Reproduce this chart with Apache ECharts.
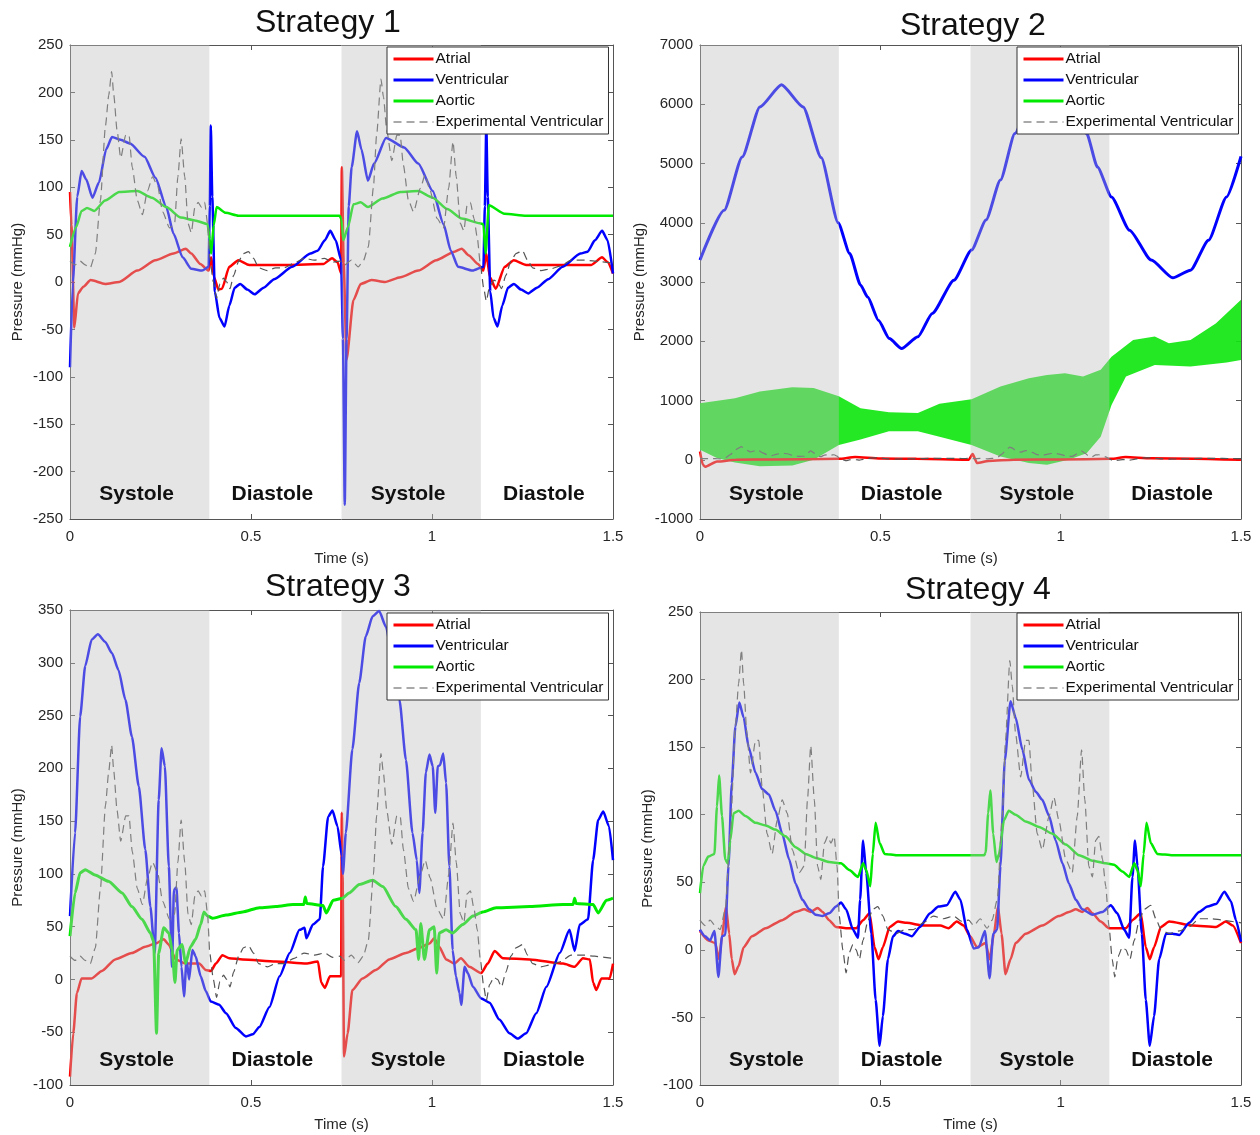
<!DOCTYPE html>
<html>
<head>
<meta charset="utf-8">
<script src="https://cdn.jsdelivr.net/npm/echarts@6/dist/echarts.min.js"></script>
<style>html,body{margin:0;padding:0;background:#fff}#chart{width:1260px;height:1135px}</style>
</head>
<body>
<div id="chart"></div>
<script>
// ---------- tick / category data ----------
const xTicks = [0, 0.5, 1, 1.5];
const phaseBounds = [[0, 0.385], [0.385, 0.75], [0.75, 1.135], [1.135, 1.5]];
const phaseNames = ['Systole', 'Diastole', 'Systole', 'Diastole'];
const phaseShaded = [1, 0, 1, 0];
const titles = ['Strategy 1', 'Strategy 2', 'Strategy 3', 'Strategy 4'];
const legendNames = ['Atrial', 'Ventricular', 'Aortic', 'Experimental Ventricular'];
const yRanges = [[-250, 250, 50], [-1000, 7000, 1000], [-100, 350, 50], [-100, 250, 50]];

// ---------- experimental ventricular (same in every panel) ----------
const expVent = [[0,22],[0.014,18],[0.028,22],[0.042,18],[0.056,15],[0.07,30],[0.084,86],[0.098,165],[0.107,197],[0.115,222],[0.121,197],[0.13,160],[0.14,131],[0.154,155],[0.163,155],[0.172,121],[0.186,86],[0.2,71],[0.214,96],[0.228,111],[0.242,101],[0.256,74],[0.275,57],[0.289,62],[0.298,111],[0.307,151],[0.317,111],[0.326,62],[0.335,52],[0.345,79],[0.354,84],[0.363,79],[0.372,84],[0.38,62],[0.386,25],[0.396,0],[0.405,-17],[0.414,-2],[0.424,4],[0.433,0],[0.442,-7],[0.452,7],[0.466,22],[0.479,30],[0.493,32],[0.507,25],[0.521,15],[0.545,12],[0.568,15],[0.591,15],[0.619,20],[0.647,25],[0.675,23],[0.703,25],[0.726,21],[0.745,22],[0.759,18],[0.777,23],[0.796,16],[0.81,22],[0.824,37],[0.838,99],[0.847,155],[0.859,214],[0.866,195],[0.875,160],[0.889,128],[0.903,155],[0.912,155],[0.921,123],[0.935,86],[0.949,74],[0.968,99],[0.981,113],[0.995,96],[1.014,67],[1.032,57],[1.046,99],[1.058,148],[1.067,111],[1.078,62],[1.088,54],[1.097,81],[1.106,84],[1.116,67],[1.125,47],[1.134,17],[1.143,-7],[1.15,-20],[1.159,-5],[1.171,2],[1.181,0],[1.192,-7],[1.204,7],[1.218,22],[1.232,30],[1.25,33],[1.264,23],[1.278,15],[1.301,12],[1.329,14],[1.356,17],[1.384,23],[1.421,23],[1.449,22],[1.477,21],[1.5,20]];

// ---------- Strategy 1 ----------
const s1Atrial = [[0,95],[0.004,60],[0.012,-48],[0.022,-12],[0.037,-5],[0.057,2],[0.097,-2],[0.136,0],[0.186,12],[0.236,23],[0.286,30],[0.32,35],[0.335,30],[0.36,19],[0.383,12],[0.39,26],[0.398,5],[0.41,-8],[0.42,-7],[0.44,16],[0.465,23],[0.495,18],[0.6,18],[0.7,19],[0.724,25],[0.739,21],[0.749,9],[0.751,121],[0.756,20],[0.764,-82],[0.783,-19],[0.803,-2],[0.833,2],[0.87,0],[0.913,5],[0.962,12],[1.012,23],[1.062,32],[1.082,35],[1.102,28],[1.127,19],[1.142,12],[1.15,30],[1.16,5],[1.176,-7],[1.201,16],[1.226,23],[1.26,18],[1.44,18],[1.47,26],[1.485,21],[1.5,9]];
const s1Vent = [[0,-90],[0.008,0],[0.02,90],[0.032,117],[0.045,108],[0.062,89],[0.08,105],[0.1,140],[0.116,153],[0.14,150],[0.166,146],[0.206,132],[0.236,110],[0.266,79],[0.286,51],[0.311,26],[0.335,14],[0.365,12],[0.383,16],[0.386,80],[0.389,165],[0.393,90],[0.4,-10],[0.413,-38],[0.427,-47],[0.44,-25],[0.455,-6],[0.47,-2],[0.49,-8],[0.51,-13],[0.535,-6],[0.564,3],[0.614,16],[0.664,30],[0.684,33],[0.704,44],[0.719,54],[0.734,44],[0.749,23],[0.754,-60],[0.759,-235],[0.764,-60],[0.77,80],[0.778,121],[0.793,159],[0.805,140],[0.823,107],[0.84,125],[0.873,152],[0.923,142],[0.962,125],[1.002,96],[1.032,61],[1.052,33],[1.072,16],[1.112,12],[1.142,16],[1.146,80],[1.15,167],[1.154,90],[1.161,-10],[1.17,-38],[1.181,-47],[1.194,-25],[1.21,-6],[1.226,-2],[1.246,-8],[1.266,-12],[1.29,-6],[1.321,3],[1.361,16],[1.41,30],[1.43,32],[1.45,44],[1.47,54],[1.485,44],[1.5,9]];
const s1Aortic = [[0,37],[0.017,58],[0.032,75],[0.047,78],[0.067,75],[0.097,86],[0.136,95],[0.186,96],[0.226,89],[0.266,79],[0.306,68],[0.345,65],[0.38,61],[0.386,45],[0.39,30],[0.397,60],[0.405,79],[0.43,73],[0.465,70],[0.745,70],[0.75,66],[0.755,44],[0.768,58],[0.783,82],[0.803,84],[0.823,79],[0.863,88],[0.913,95],[0.962,96],[1.002,89],[1.042,77],[1.082,67],[1.132,62],[1.142,61],[1.148,30],[1.157,81],[1.2,72],[1.26,70],[1.5,70]];

// ---------- Strategy 2 ----------
const s2Atrial = [[0,140],[0.008,-85],[0.014,-120],[0.047,-30],[0.1,0],[0.2,5],[0.385,15],[0.43,45],[0.5,20],[0.6,15],[0.745,0],[0.756,95],[0.768,-55],[0.8,-20],[0.87,0],[1.0,5],[1.14,15],[1.18,45],[1.25,25],[1.5,0]];
const s2Vent = [[0,3370],[0.067,4210],[0.117,5110],[0.166,5955],[0.226,6330],[0.286,5955],[0.336,5100],[0.383,4000],[0.415,3480],[0.445,2950],[0.465,2745],[0.495,2350],[0.525,2045],[0.559,1876],[0.604,2075],[0.644,2470],[0.704,3030],[0.753,3540],[0.793,4045],[0.833,4720],[0.873,5505],[0.92,6150],[0.97,6450],[1.02,6150],[1.072,5505],[1.102,4940],[1.141,4435],[1.191,3875],[1.251,3370],[1.311,3070],[1.36,3200],[1.41,3705],[1.46,4435],[1.5,5120]];
const s2AorticUpper = [[0,955],[0.097,1040],[0.166,1150],[0.256,1225],[0.315,1210],[0.385,1070],[0.445,870],[0.524,800],[0.604,790],[0.664,945],[0.753,1020],[0.833,1235],[0.912,1375],[0.962,1430],[1.012,1460],[1.062,1405],[1.111,1520],[1.141,1740],[1.201,2020],[1.261,2080],[1.3,1965],[1.36,2020],[1.43,2300],[1.5,2700]];
const s2AorticLower = [[0,170],[0.047,30],[0.097,-45],[0.166,-110],[0.256,-95],[0.315,0],[0.385,250],[0.445,340],[0.524,480],[0.604,480],[0.664,390],[0.753,250],[0.833,55],[0.912,-55],[0.962,-85],[1.022,0],[1.072,110],[1.111,390],[1.141,925],[1.181,1405],[1.261,1600],[1.36,1575],[1.46,1640],[1.5,1685]];

// ---------- Strategy 3 ----------
const s3Atrial = [[0,-92],[0.009,-51],[0.019,-13],[0.032,1],[0.06,1],[0.088,8],[0.125,19],[0.171,25],[0.208,31],[0.236,34],[0.259,38],[0.273,33],[0.292,19],[0.319,15],[0.357,15],[0.375,9],[0.389,8],[0.403,15],[0.421,23],[0.44,20],[0.477,19],[0.569,17],[0.653,15],[0.685,17],[0.694,-3],[0.704,-8],[0.718,3],[0.749,3],[0.751,158],[0.753,100],[0.757,-73],[0.767,-51],[0.78,-10],[0.808,1],[0.845,9],[0.882,19],[0.928,25],[0.965,30],[0.993,34],[1.006,39],[1.02,31],[1.039,19],[1.062,15],[1.08,20],[1.103,12],[1.136,6],[1.154,15],[1.173,27],[1.196,20],[1.27,19],[1.362,15],[1.394,12],[1.417,20],[1.436,19],[1.445,-3],[1.454,-10],[1.468,1],[1.491,1],[1.5,15]];
const s3Vent = [[0,60],[0.014,139],[0.028,249],[0.042,297],[0.06,322],[0.077,327],[0.097,320],[0.116,309],[0.134,293],[0.153,265],[0.171,230],[0.19,183],[0.208,123],[0.222,69],[0.234,25],[0.245,170],[0.253,219],[0.262,202],[0.273,107],[0.282,12],[0.287,85],[0.294,87],[0.301,44],[0.308,12],[0.315,-16],[0.322,19],[0.329,0],[0.338,28],[0.347,22],[0.361,3],[0.375,-11],[0.389,-21],[0.412,-24],[0.431,-32],[0.458,-46],[0.486,-54],[0.505,-52],[0.523,-45],[0.551,-26],[0.579,3],[0.607,25],[0.634,47],[0.648,49],[0.653,39],[0.671,52],[0.69,57],[0.699,107],[0.713,154],[0.725,160],[0.739,145],[0.751,117],[0.754,100],[0.762,139],[0.78,218],[0.799,281],[0.817,325],[0.836,344],[0.854,349],[0.873,334],[0.891,303],[0.91,265],[0.928,208],[0.946,139],[0.958,113],[0.965,82],[0.974,139],[0.983,196],[0.993,213],[1.002,202],[1.009,158],[1.016,202],[1.022,203],[1.031,214],[1.039,186],[1.048,107],[1.057,28],[1.066,3],[1.076,-13],[1.081,-24],[1.09,12],[1.099,6],[1.113,-7],[1.136,-18],[1.159,-22],[1.186,-38],[1.214,-51],[1.237,-56],[1.26,-51],[1.288,-32],[1.316,-7],[1.353,25],[1.38,47],[1.394,27],[1.408,52],[1.431,57],[1.445,113],[1.459,151],[1.473,159],[1.489,145],[1.5,113]];
const s3Aortic = [[0,41],[0.014,82],[0.028,101],[0.042,104],[0.069,99],[0.106,93],[0.144,82],[0.171,69],[0.199,57],[0.222,44],[0.231,36],[0.239,-51],[0.245,25],[0.259,49],[0.273,44],[0.282,28],[0.29,-3],[0.296,28],[0.31,33],[0.319,15],[0.333,31],[0.347,38],[0.361,52],[0.37,64],[0.38,60],[0.394,58],[0.431,61],[0.477,64],[0.523,68],[0.569,69],[0.616,71],[0.646,71],[0.65,78],[0.654,72],[0.699,70],[0.708,63],[0.727,75],[0.753,77],[0.771,82],[0.799,90],[0.836,94],[0.864,88],[0.9,69],[0.928,57],[0.956,47],[0.963,19],[0.969,53],[0.979,19],[0.993,47],[1.006,50],[1.013,6],[1.02,44],[1.039,47],[1.057,44],[1.085,52],[1.113,60],[1.14,64],[1.177,68],[1.27,69],[1.362,71],[1.39,71],[1.394,77],[1.398,72],[1.445,71],[1.459,63],[1.482,75],[1.5,77]];

// ---------- Strategy 4 ----------
const s4Atrial = [[0,14],[0.023,7],[0.042,5],[0.053,-7],[0.061,10],[0.072,32],[0.081,12],[0.088,-7],[0.096,-18],[0.107,-12],[0.121,2],[0.144,10],[0.182,16],[0.228,22],[0.265,28],[0.289,30],[0.307,28],[0.326,31],[0.34,28],[0.358,22],[0.377,17],[0.405,16],[0.433,16],[0.452,22],[0.47,27],[0.484,2],[0.495,-7],[0.507,2],[0.526,17],[0.549,21],[0.573,20],[0.619,18],[0.666,18],[0.689,16],[0.712,21],[0.731,18],[0.749,10],[0.768,2],[0.792,5],[0.803,-7],[0.815,12],[0.826,32],[0.836,12],[0.847,-18],[0.861,-7],[0.875,5],[0.903,12],[0.949,18],[0.995,25],[1.023,28],[1.042,30],[1.06,28],[1.074,31],[1.088,27],[1.111,21],[1.134,16],[1.181,16],[1.199,22],[1.222,27],[1.236,2],[1.247,-7],[1.259,2],[1.278,17],[1.301,21],[1.366,18],[1.431,17],[1.458,21],[1.477,18],[1.5,5]];
const s4Vent = [[0,15],[0.014,10],[0.028,7],[0.04,14],[0.051,-20],[0.061,10],[0.07,11],[0.079,62],[0.088,123],[0.098,165],[0.109,183],[0.121,172],[0.135,150],[0.154,131],[0.172,119],[0.191,115],[0.209,103],[0.228,86],[0.247,67],[0.265,49],[0.284,37],[0.303,30],[0.321,26],[0.34,25],[0.358,27],[0.377,32],[0.391,35],[0.405,30],[0.424,15],[0.438,9],[0.444,37],[0.452,81],[0.461,57],[0.475,12],[0.487,-37],[0.498,-71],[0.507,-49],[0.521,-7],[0.535,10],[0.549,14],[0.568,12],[0.587,10],[0.61,17],[0.638,27],[0.661,32],[0.684,33],[0.708,43],[0.722,37],[0.74,15],[0.759,1],[0.773,2],[0.79,14],[0.803,-21],[0.813,12],[0.824,15],[0.833,62],[0.845,140],[0.861,184],[0.875,172],[0.894,148],[0.912,126],[0.931,117],[0.949,111],[0.968,99],[0.986,81],[1.005,64],[1.023,49],[1.042,37],[1.06,30],[1.088,26],[1.116,28],[1.139,33],[1.157,27],[1.176,15],[1.19,9],[1.199,54],[1.206,81],[1.213,62],[1.225,12],[1.236,-37],[1.247,-71],[1.259,-49],[1.273,-7],[1.292,12],[1.31,12],[1.329,11],[1.356,20],[1.384,28],[1.407,32],[1.431,34],[1.454,43],[1.472,36],[1.486,22],[1.5,6]];
const s4Aortic = [[0,42],[0.009,62],[0.023,69],[0.04,71],[0.047,106],[0.053,129],[0.061,99],[0.07,67],[0.077,64],[0.084,81],[0.093,101],[0.107,103],[0.126,99],[0.154,94],[0.182,92],[0.209,89],[0.237,84],[0.265,76],[0.293,71],[0.321,68],[0.358,65],[0.391,64],[0.414,59],[0.438,54],[0.452,64],[0.461,59],[0.472,47],[0.479,71],[0.487,94],[0.498,79],[0.512,71],[0.545,70],[0.788,70],[0.792,72],[0.799,101],[0.805,118],[0.813,86],[0.822,65],[0.829,71],[0.843,96],[0.856,103],[0.875,100],[0.903,95],[0.94,91],[0.977,86],[1.014,78],[1.051,70],[1.088,66],[1.125,64],[1.148,63],[1.171,58],[1.19,54],[1.204,64],[1.213,59],[1.222,47],[1.23,71],[1.238,94],[1.25,79],[1.268,71],[1.31,70],[1.5,70]];

// ---------- layout ----------
const grids = [
  {left: 70, top: 45, width: 543, height: 474},
  {left: 700, top: 45, width: 541, height: 474},
  {left: 70, top: 610, width: 543, height: 475},
  {left: 700, top: 612, width: 541, height: 473}
];
const yNameGaps = [45, 53, 45, 45];
const titlePos = [[255, 7], [900, 10], [265, 571], [905, 574]];
const legendPos = [[387, 47], [1017, 47], [387, 613], [1017, 613]];

const FONT = '"Liberation Sans", Arial, Helvetica, sans-serif';
const AX = '#555';
const C_RED = '#ff0000', C_BLUE = '#0000ff', C_GREEN = '#00ea00', C_EXP = '#555555';

const xAxes = [], yAxes = [], series = [];
grids.forEach((g, i) => {
  const tick = {show: true, inside: true, length: 5, lineStyle: {color: AX}};
  const line = {show: true, onZero: false, lineStyle: {color: AX, width: 1}};
  xAxes.push({type: 'value', gridIndex: i, min: 0, max: 1.5, interval: 0.5, position: 'bottom',
    axisLine: line, axisTick: tick, splitLine: {show: false},
    axisLabel: {color: '#262626', fontSize: 15, margin: 10, fontFamily: FONT, formatter: v => String(v)},
    name: 'Time (s)', nameLocation: 'middle', nameGap: 32,
    nameTextStyle: {color: '#262626', fontSize: 15, fontFamily: FONT}});
  xAxes.push({type: 'value', gridIndex: i, min: 0, max: 1.5, interval: 0.5, position: 'top',
    axisLine: line, axisTick: tick, splitLine: {show: false}, axisLabel: {show: false}});
  const [ymin, ymax, yint] = yRanges[i];
  yAxes.push({type: 'value', gridIndex: i, min: ymin, max: ymax, interval: yint, position: 'left',
    axisLine: line, axisTick: tick, splitLine: {show: false},
    axisLabel: {color: '#262626', fontSize: 15, margin: 7, fontFamily: FONT, formatter: v => String(v)},
    name: 'Pressure (mmHg)', nameLocation: 'middle', nameGap: yNameGaps[i], nameRotate: 90,
    nameTextStyle: {color: '#262626', fontSize: 15, fontFamily: FONT}});
  yAxes.push({type: 'value', gridIndex: i, min: ymin, max: ymax, interval: yint, position: 'right',
    axisLine: line, axisTick: tick, splitLine: {show: false}, axisLabel: {show: false}});
});

function lineSeries(name, data, gi, color, width, extra) {
  return Object.assign({
    type: 'line', name: name, data: data, xAxisIndex: gi * 2, yAxisIndex: gi * 2,
    showSymbol: false, symbol: 'none', smooth: 0.2, smoothMonotone: 'x',
    lineStyle: {color: color, width: width}, itemStyle: {color: color},
    z: 2, animation: false, silent: true
  }, extra || {});
}
function expSeries(gi) {
  return lineSeries('Experimental Ventricular', expVent, gi, C_EXP, 1.2,
    {lineStyle: {color: C_EXP, width: 1.2, type: [8, 5]}});
}

// Strategy 2 aortic oscillation band (between read envelopes)
series.push({
  type: 'custom', xAxisIndex: 2, yAxisIndex: 2, data: [[0, 0]], z: 2, silent: true, animation: false,
  renderItem: function (params, api) {
    const pts = s2AorticUpper.map(p => api.coord(p))
      .concat(s2AorticLower.slice().reverse().map(p => api.coord(p)));
    return {type: 'polygon', shape: {points: pts}, style: {fill: '#10e610', opacity: 0.92}};
  }
});

series.push(lineSeries('Atrial', s1Atrial, 0, C_RED, 2.5));
series.push(lineSeries('Ventricular', s1Vent, 0, C_BLUE, 2.5));
series.push(lineSeries('Aortic', s1Aortic, 0, C_GREEN, 2.5));
series.push(expSeries(0));

series.push(lineSeries('Atrial', s2Atrial, 1, C_RED, 2.5));
series.push(lineSeries('Ventricular', s2Vent, 1, C_BLUE, 3));
series.push(expSeries(1));

series.push(lineSeries('Atrial', s3Atrial, 2, C_RED, 2.5));
series.push(lineSeries('Ventricular', s3Vent, 2, C_BLUE, 2.5));
series.push(lineSeries('Aortic', s3Aortic, 2, C_GREEN, 3));
series.push(expSeries(2));

series.push(lineSeries('Atrial', s4Atrial, 3, C_RED, 2.5));
series.push(lineSeries('Ventricular', s4Vent, 3, C_BLUE, 2.5));
series.push(lineSeries('Aortic', s4Aortic, 3, C_GREEN, 2.5));
series.push(expSeries(3));

// Systole / Diastole phases: translucent overlay (drawn over the curves) + labels
grids.forEach((g, i) => {
  series.push({
    type: 'custom', xAxisIndex: i * 2, yAxisIndex: i * 2, z: 3, silent: true, animation: false,
    data: phaseBounds.map(b => [b[0], b[1]]),
    encode: {x: [0, 1]},
    renderItem: function (params, api) {
      const cs = params.coordSys;
      const x0 = api.coord([api.value(0), 0])[0];
      const x1 = api.coord([api.value(1), 0])[0];
      const kids = [];
      if (phaseShaded[params.dataIndex]) {
        kids.push({type: 'rect', shape: {x: x0, y: cs.y, width: x1 - x0, height: cs.height},
          style: {fill: 'rgba(190,190,190,0.4)'}});
      }
      kids.push({type: 'text', style: {text: phaseNames[params.dataIndex], x: (x0 + x1) / 2 - 3,
        y: cs.y + cs.height - 25, align: 'center', verticalAlign: 'middle',
        fontSize: 21, fontWeight: 'bold', fontFamily: FONT, fill: '#111'}});
      return {type: 'group', children: kids};
    }
  });
});

const legendWidths = [3, 3, 3, 1.2];
const option = {
  backgroundColor: '#fff',
  animation: false,
  textStyle: {fontFamily: FONT},
  title: titles.map((t, i) => ({text: t, left: titlePos[i][0], top: titlePos[i][1], padding: 0,
    textStyle: {fontSize: 32, fontWeight: 'normal', color: '#111', fontFamily: FONT}})),
  legend: legendPos.map(p => ({
    data: legendNames.map((n, k) => ({name: n, lineStyle: {width: legendWidths[k]}})),
    orient: 'vertical', left: p[0], top: p[1],
    padding: [4, 5, 4, 5], itemGap: 5, itemWidth: 40, itemHeight: 14,
    itemStyle: {opacity: 0, borderWidth: 0},
    backgroundColor: '#fff', borderColor: '#333', borderWidth: 1, borderRadius: 0,
    textStyle: {fontSize: 15.5, lineHeight: 16, color: '#111', fontFamily: FONT, padding: [0, 0, 0, -3]},
    selectedMode: false, z: 5
  })),
  grid: grids.map(g => Object.assign({containLabel: false, show: false}, g)),
  xAxis: xAxes,
  yAxis: yAxes,
  series: series
};

const chart = echarts.init(document.getElementById('chart'), null, {renderer: 'canvas'});
chart.setOption(option);
</script>
</body>
</html>
